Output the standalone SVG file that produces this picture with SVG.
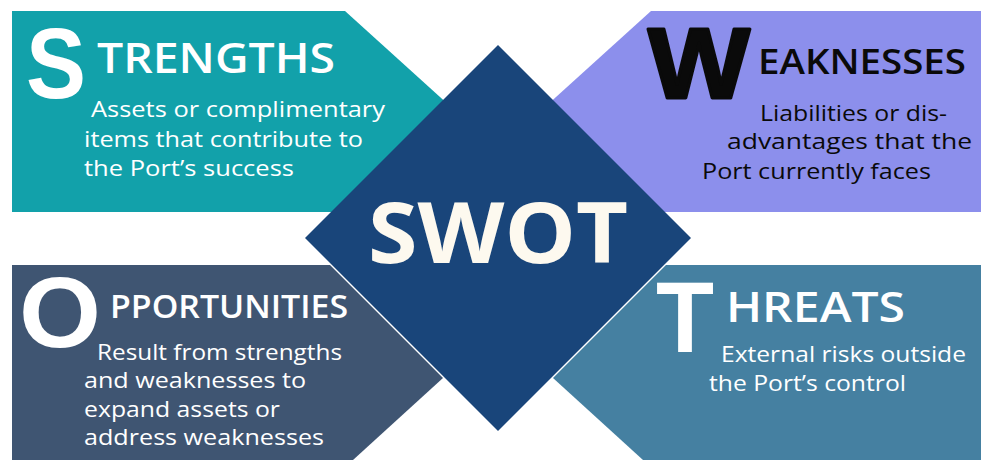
<svg xmlns="http://www.w3.org/2000/svg" width="986" height="460" viewBox="0 0 986 460">
  <style>
    .cap { font-family: "Liberation Sans", Arial, sans-serif; font-weight: 700; }
    .head { font-family: "Open Sans", "Noto Sans", sans-serif; font-weight: 600; }
    .body { font-family: "Open Sans", "Noto Sans", sans-serif; font-weight: 400; font-size: 21px; }
    .light { fill: #ffffff; }
    .dark { fill: #0a0a0a; }
  </style>
  <rect width="986" height="460" fill="#ffffff"/>

  <!-- Strengths: teal arrow panel pointing right -->
  <g id="strengths">
    <polygon points="12,11 345,11 456,111.5 345,212 12,212" fill="#12a1aa"/>
    <text class="cap light" x="26" y="98" font-size="100" textLength="60" lengthAdjust="spacingAndGlyphs">S</text>
    <text class="head light" x="97" y="73" font-size="42" textLength="238" lengthAdjust="spacingAndGlyphs">TRENGTHS</text>
    <text class="body light" x="91" y="117" textLength="294" lengthAdjust="spacingAndGlyphs">Assets or complimentary</text>
    <text class="body light" x="84" y="147" textLength="279" lengthAdjust="spacingAndGlyphs">items that contribute to</text>
    <text class="body light" x="84" y="176" textLength="210" lengthAdjust="spacingAndGlyphs">the Port’s success</text>
  </g>

  <!-- Weaknesses: purple arrow panel pointing left -->
  <g id="weaknesses">
    <polygon points="981,11 651,11 540,111.5 651,212 981,212" fill="#8c8fec"/>
    <text class="cap dark" x="648" y="98" font-size="101" stroke="#0a0a0a" stroke-width="3" stroke-linejoin="round" textLength="102" lengthAdjust="spacingAndGlyphs">W</text>
    <text class="head dark" x="758" y="74" font-size="35" textLength="208" lengthAdjust="spacingAndGlyphs">EAKNESSES</text>
    <text class="body dark" x="760" y="120.5" textLength="187" lengthAdjust="spacingAndGlyphs">Liabilities or dis-</text>
    <text class="body dark" x="727" y="149" textLength="245" lengthAdjust="spacingAndGlyphs">advantages that the</text>
    <text class="body dark" x="702" y="178.5" textLength="229" lengthAdjust="spacingAndGlyphs">Port currently faces</text>
  </g>

  <!-- Opportunities: slate arrow panel pointing right -->
  <g id="opportunities">
    <polygon points="12,265 330,265 443,378 353,460 12,460" fill="#3f5572"/>
    <text class="cap light" x="19" y="347" font-size="100" textLength="82" lengthAdjust="spacingAndGlyphs">O</text>
    <text class="head light" x="110" y="318" font-size="33" textLength="238" lengthAdjust="spacingAndGlyphs">PPORTUNITIES</text>
    <text class="body light" x="97" y="360" textLength="245" lengthAdjust="spacingAndGlyphs">Result from strengths</text>
    <text class="body light" x="84" y="388" textLength="222" lengthAdjust="spacingAndGlyphs">and weaknesses to</text>
    <text class="body light" x="84" y="417" textLength="196" lengthAdjust="spacingAndGlyphs">expand assets or</text>
    <text class="body light" x="84" y="445" textLength="240" lengthAdjust="spacingAndGlyphs">address weaknesses</text>
  </g>

  <!-- Threats: steel-blue arrow panel pointing left -->
  <g id="threats">
    <polygon points="981,265 666,265 553,378 643,460 981,460" fill="#4580a1"/>
    <text class="cap light" x="656" y="352" font-size="100" textLength="58" lengthAdjust="spacingAndGlyphs">T</text>
    <text class="head light" x="726" y="322" font-size="42" textLength="179" lengthAdjust="spacingAndGlyphs">HREATS</text>
    <text class="body light" x="721" y="362" textLength="245" lengthAdjust="spacingAndGlyphs">External risks outside</text>
    <text class="body light" x="709" y="390.5" textLength="197" lengthAdjust="spacingAndGlyphs">the Port’s control</text>
  </g>

  <!-- Central diamond -->
  <g id="swot">
    <polygon points="498,45 691,238 498,431 305,238" fill="#19457a"/>
    <text x="368" y="263" font-family="Open Sans, Noto Sans, sans-serif" font-weight="700" font-size="85" fill="#fdf9ef" textLength="260" lengthAdjust="spacingAndGlyphs">SWOT</text>
  </g>
</svg>
